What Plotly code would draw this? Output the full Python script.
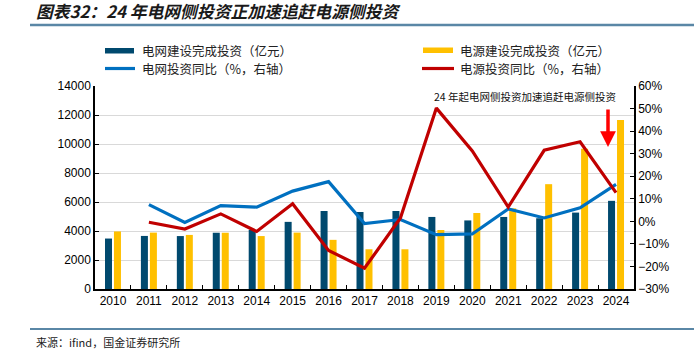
import plotly.graph_objects as go

years = ["2010", "2011", "2012", "2013", "2014", "2015", "2016", "2017",
         "2018", "2019", "2020", "2021", "2022", "2023", "2024"]
grid_invest = [3480, 3660, 3650, 3880, 4070, 4630, 5380, 5310,
               5380, 4970, 4730, 4970, 4880, 5270, 6080]
source_invest = [3970, 3890, 3730, 3880, 3650, 3890, 3390, 2740,
                 2740, 4070, 5240, 5560, 7230, 9670, 11660]
grid_yoy = [None, 7.4, -0.5, 7.0, 6.3, 13.4, 17.6, -1.0,
            0.8, -5.9, -5.6, 5.5, 1.5, 6.0, 16.4]
source_yoy = [None, -0.4, -3.4, 3.3, -4.5, 7.8, -12.9, -20.8,
              1.5, 50.2, 31.2, 6.3, 31.5, 35.3, 12.7]

C_DARK = "#00496E"
C_YEL = "#FFC000"
C_BLUE = "#0070C0"
C_RED = "#C00000"
CJK = "Noto Sans CJK SC"
NUM = "Liberation Sans, Arial"

fig = go.Figure()
fig.add_trace(go.Bar(x=years, y=grid_invest, name="电网建设完成投资（亿元）",
                     marker_color=C_DARK, marker_line_width=0))
fig.add_trace(go.Bar(x=years, y=source_invest, name="电源建设完成投资（亿元）",
                     marker_color=C_YEL, marker_line_width=0))
fig.add_trace(go.Scatter(x=years, y=grid_yoy, name="电网投资同比（%，右轴）",
                         mode="lines", line=dict(color=C_BLUE, width=3.2),
                         yaxis="y2", connectgaps=False))
fig.add_trace(go.Scatter(x=years, y=source_yoy, name="电源投资同比（%，右轴）",
                         mode="lines", line=dict(color=C_RED, width=3.2),
                         yaxis="y2", connectgaps=False))

W, H = 694, 352
L, R, T, B = 95, 60, 86, 63

def fx(xpix):
    return (xpix - L) / (W - L - R)

def fy(ypix):
    return (H - B - ypix) / (H - T - B)

shapes = []
annotations = []
# title rule and bottom rule
shapes.append(dict(type="line", xref="paper", yref="paper",
                   x0=fx(30), x1=fx(W), y0=fy(25), y1=fy(25),
                   line=dict(color="#5A87A6", width=2.5)))
shapes.append(dict(type="line", xref="paper", yref="paper",
                   x0=fx(30), x1=fx(W), y0=fy(329), y1=fy(329),
                   line=dict(color="#5A87A6", width=2)))

# legend swatches
shapes.append(dict(type="rect", xref="paper", yref="paper",
                   x0=fx(105), x1=fx(134), y0=fy(53.5), y1=fy(48),
                   fillcolor=C_DARK, line_width=0))
shapes.append(dict(type="rect", xref="paper", yref="paper",
                   x0=fx(423), x1=fx(453), y0=fy(53), y1=fy(47.5),
                   fillcolor=C_YEL, line_width=0))
shapes.append(dict(type="line", xref="paper", yref="paper",
                   x0=fx(105), x1=fx(135), y0=fy(68.5), y1=fy(68.5),
                   line=dict(color=C_BLUE, width=3.2)))
shapes.append(dict(type="line", xref="paper", yref="paper",
                   x0=fx(422), x1=fx(454), y0=fy(68.5), y1=fy(68.5),
                   line=dict(color=C_RED, width=3.2)))

legend_items = [
    ("电网建设完成投资（亿元）", 140, 50.5),
    ("电网投资同比（%，右轴）", 140, 68.5),
    ("电源建设完成投资（亿元）", 458, 50.5),
    ("电源投资同比（%，右轴）", 458, 68.5),
]
for text, xx, yy in legend_items:
    annotations.append(dict(text=text, xref="paper", yref="paper",
                            x=fx(xx), y=fy(yy), xanchor="left", yanchor="middle",
                            showarrow=False,
                            font=dict(family=CJK, size=12.5, color="#222222")))

# title
annotations.append(dict(text="<b><i>图表32：24 年电网侧投资正加速追赶电源侧投资</i></b>",
                        xref="paper", yref="paper", x=fx(34), y=fy(11),
                        xanchor="left", yanchor="middle", showarrow=False,
                        font=dict(family=CJK, size=16.8, color="#1a1a1a")))
# source
annotations.append(dict(text="来源：ifind，国金证券研究所",
                        xref="paper", yref="paper", x=fx(34), y=fy(342),
                        xanchor="left", yanchor="middle", showarrow=False,
                        font=dict(family=CJK, size=11, color="#222222")))
# in-chart note
annotations.append(dict(text="24 年起电网侧投资加速追赶电源侧投资",
                        xref="paper", yref="paper", x=fx(618), y=fy(96),
                        xanchor="right", yanchor="middle", showarrow=False,
                        font=dict(family=CJK, size=10.5, color="#111111")))
# red arrow
annotations.append(dict(text="", xref="paper", yref="paper",
                        x=fx(608), y=fy(147), ax=0, ay=-39,
                        showarrow=True, arrowhead=2, arrowsize=0.9,
                        arrowwidth=3.5, arrowcolor="#FF0000"))

fig.update_layout(
    width=W, height=H,
    margin=dict(l=L, r=R, t=T, b=B),
    paper_bgcolor="white", plot_bgcolor="white",
    showlegend=False,
    barmode="group", bargap=0.5, bargroupgap=0.22,
    shapes=shapes, annotations=annotations,
    font=dict(family=NUM, size=12, color="#000000"),
    xaxis=dict(type="category", showline=True, linecolor="#000000", linewidth=1.5,
               ticks="inside", tickson="boundaries", ticklen=4, tickcolor="#000000",
               showgrid=False, tickangle=0,
               tickfont=dict(family=NUM, size=12, color="#000000"),
               range=[-0.5, 14.5]),
    yaxis=dict(range=[0, 14000], dtick=2000, showline=True, linecolor="#000000",
               linewidth=1.5, ticks="inside", ticklen=4, tickcolor="#000000",
               showgrid=True, gridcolor="#D9D9D9", gridwidth=1,
               zeroline=False, tickfont=dict(family=NUM, size=12, color="#000000"),
               tickformat="d"),
    yaxis2=dict(range=[-30, 60], dtick=10, overlaying="y", side="right",
                showline=True, linecolor="#000000", linewidth=1.5,
                ticks="inside", ticklen=4, tickcolor="#000000",
                showgrid=False, zeroline=False, ticksuffix="%",
                tickfont=dict(family=NUM, size=12, color="#000000")),
)

fig.write_html("out.html")
